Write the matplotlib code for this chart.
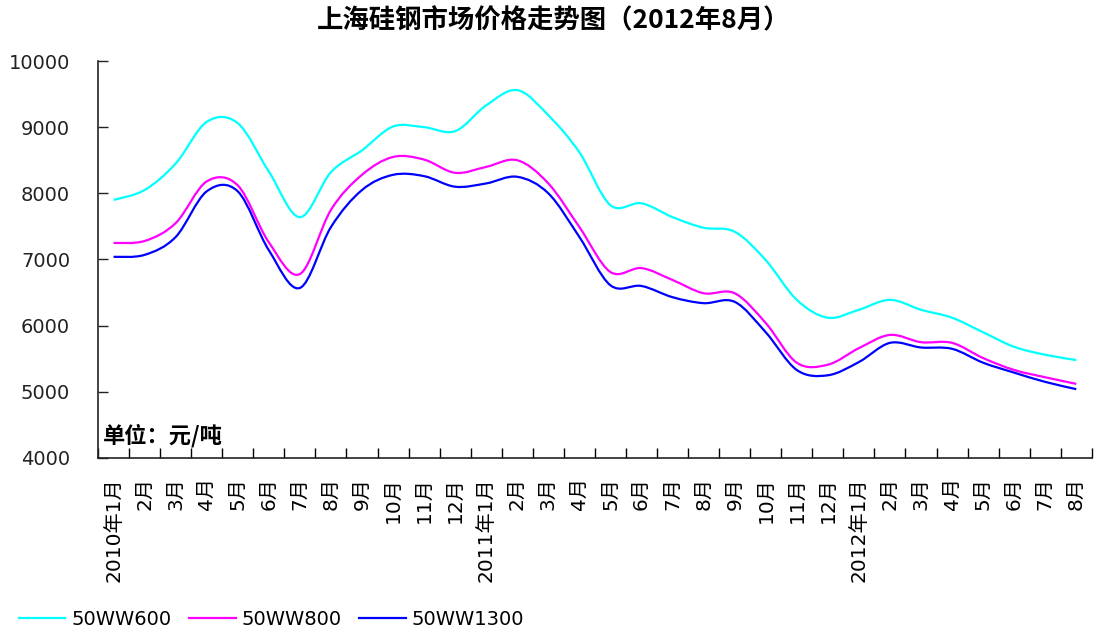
import matplotlib
matplotlib.use("Agg")
import matplotlib.pyplot as plt
from matplotlib.path import Path
from matplotlib.patches import PathPatch
from matplotlib.lines import Line2D
import numpy as np

plt.rcParams['font.family'] = ['DejaVu Sans', 'Noto Sans CJK SC']

MONTHS = ["2010年1月", "2月", "3月", "4月", "5月", "6月", "7月", "8月", "9月", "10月", "11月", "12月",
          "2011年1月", "2月", "3月", "4月", "5月", "6月", "7月", "8月", "9月", "10月", "11月", "12月",
          "2012年1月", "2月", "3月", "4月", "5月", "6月", "7月", "8月"]

WW600 = [7900, 8050, 8450, 9080, 9060, 8330, 7640, 8320, 8650, 9010, 9000, 8940,
         9330, 9560, 9180, 8620, 7820, 7850, 7640, 7480, 7420, 6990, 6390, 6120,
         6240, 6390, 6240, 6120, 5900, 5680, 5560, 5480]
WW800 = [7250, 7280, 7550, 8180, 8120, 7260, 6780, 7750, 8280, 8550, 8510, 8310,
         8400, 8500, 8150, 7490, 6810, 6870, 6690, 6490, 6490, 6040, 5440, 5410,
         5660, 5860, 5750, 5740, 5510, 5330, 5220, 5120]
WW1300 = [7040, 7070, 7340, 8030, 8030, 7140, 6570, 7490, 8050, 8280, 8260, 8100,
          8150, 8250, 8000, 7340, 6610, 6600, 6430, 6340, 6360, 5900, 5330, 5250,
          5450, 5740, 5670, 5650, 5440, 5290, 5150, 5040]

SERIES = [("50WW600", WW600, "#00FFFF"), ("50WW800", WW800, "#FF00FF"), ("50WW1300", WW1300, "#0000FF")]


def smooth_path(xs, ys):
    # Excel style smoothed line: cubic bezier with catmull-rom control points
    pts = np.column_stack([xs, ys]).astype(float)
    verts = [pts[0]]
    codes = [Path.MOVETO]
    n = len(pts)
    for i in range(n - 1):
        p0 = pts[max(i - 1, 0)]
        p1 = pts[i]
        p2 = pts[i + 1]
        p3 = pts[min(i + 2, n - 1)]
        verts += [p1 + (p2 - p0) / 6, p2 - (p3 - p1) / 6, p2]
        codes += [Path.CURVE4] * 3
    return Path(verts, codes)


fig = plt.figure(figsize=(10.94, 6.31), dpi=100)
ax = fig.add_axes([0.0896, 0.2742, 0.9084, 0.6291])

x = np.arange(len(MONTHS))
handles = []
for name, vals, color in SERIES:
    patch = PathPatch(smooth_path(x, vals), fill=False, edgecolor=color, linewidth=1.6)
    ax.add_patch(patch)
    handles.append(Line2D([], [], color=color, linewidth=1.6, label=name))

ax.set_xlim(-0.5, len(MONTHS) - 0.5)
ax.set_ylim(4000, 10000)
ax.set_yticks(range(4000, 10001, 1000))
ax.tick_params(axis='y', which='both', direction='in', length=7, width=1, pad=20, labelsize=14,
               colors='#222222')

ax.set_xticks(np.arange(-0.5, len(MONTHS), 1))
ax.set_xticklabels([])
ax.set_xticks(x, minor=True)
ax.set_xticklabels(MONTHS, minor=True, rotation=90, va='top', ha='center', fontsize=14.5)
ax.tick_params(axis='x', which='major', direction='in', length=7, width=1)
ax.tick_params(axis='x', which='minor', length=0, pad=14)

for side in ['top', 'right']:
    ax.spines[side].set_visible(False)
for side in ['left', 'bottom']:
    ax.spines[side].set_linewidth(1.2)
    ax.spines[side].set_color('#222222')

ax.text(0.005, 0.04, "单位：元/吨", transform=ax.transAxes, fontsize=16, fontweight='bold',
        family=['Noto Sans CJK SC', 'DejaVu Sans'])

fig.suptitle("上海硅钢市场价格走势图（2012年8月）", x=0.506, y=0.988, fontsize=19, fontweight='bold',
             family=['Noto Sans CJK SC', 'DejaVu Sans'])

fig.legend(handles=handles, loc='center left', bbox_to_anchor=(0.01, 0.018), ncol=3, frameon=False,
           fontsize=14, handlelength=2.4, handletextpad=0.3, columnspacing=0.9, borderaxespad=0)

fig.savefig("out.png", dpi=100, facecolor='white')
